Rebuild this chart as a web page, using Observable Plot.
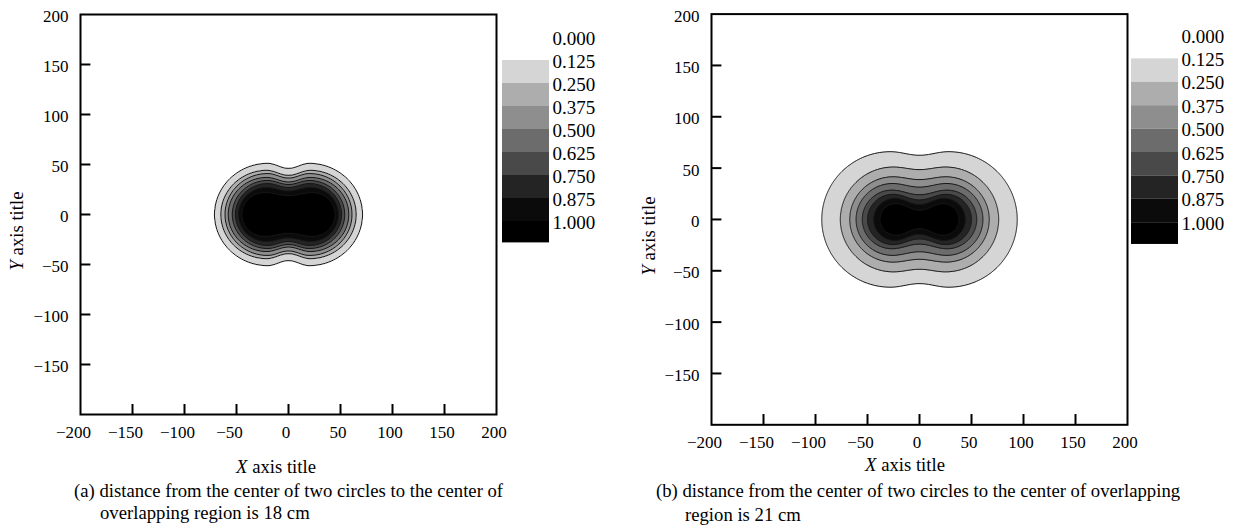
<!DOCTYPE html>
<html>
<head>
<meta charset="utf-8">
<script src="https://cdn.jsdelivr.net/npm/d3@7"></script>
<script src="https://cdn.jsdelivr.net/npm/@observablehq/plot@0.6"></script>
<style>
  body { margin: 0; background: #fff; }
  #root { position: relative; width: 1235px; height: 528px; overflow: hidden;
          font-family: "Liberation Serif", "Times New Roman", serif; color: #000; background: #fff; }
  #root svg, #root svg text { font-family: "Liberation Serif", "Times New Roman", serif !important; }
  .abs { position: absolute; white-space: nowrap; line-height: 1; }
  .t { font-size: 18.7px; }
</style>
</head>
<body>
<div id="root"></div>
<script>
// ---------- data ----------
const levels = [0.125, 0.25, 0.375, 0.5, 0.625, 0.75, 0.875, 1.0];
const legendLabels = ["0.000", "0.125", "0.250", "0.375", "0.500", "0.625", "0.750", "0.875", "1.000"];
const grays = ["#d5d5d5", "#adadad", "#8e8e8e", "#6c6c6c", "#494949", "#242424", "#0b0b0b", "#000000"];
const xTicks = [-200, -150, -100, -50, 0, 50, 100, 150, 200];
const yTicks = [200, 150, 100, 50, 0, -50, -100, -150];

// panel (a): for each contour level, half-width on the x axis, height of the lobes, height at x = 0
const aHalfWidth   = [71, 65, 61, 58, 54, 51, 48, 45];
const aLobeHeight  = [51, 44, 41, 37, 34, 31, 27, 22];
const aCentreHeight = [46, 39, 36.5, 32.5, 30, 27, 23.5, 19];
// panel (b)
const bHalfWidth   = [94, 76, 67, 61, 55, 50, 44, 38];
const bLobeHeight  = [66, 51, 41.5, 35, 28.5, 24.5, 20.5, 15.5];
const bCentreHeight = [62.5, 48.5, 38.8, 31.5, 24, 19, 14.5, 9];

const captionA = ["(a) distance from the center of two circles to the center of", "overlapping region is 18 cm"];
const captionB = ["(b) distance from the center of two circles to the center of overlapping", "region is 21 cm"];

// ---------- helpers ----------
const SERIF = '"Liberation Serif", "Times New Roman", serif';
const fmtTick = d => (d < 0 ? "\u2212" + Math.abs(d) : String(d));

// continuous field whose level sets pass through the measured contour shapes
function makeField(hw, lobe, centre) {
  const shapes = hw.map((X, i) => ({c: X - lobe[i], R: lobe[i], dip: lobe[i] - centre[i]}));
  const g = (s, x, y) => {
    const ax = Math.abs(x), ay = Math.abs(y);
    const d = Math.hypot(Math.max(0, ax - s.c), ay);
    const bump = ax < s.c ? (1 + Math.cos(Math.PI * ax / s.c)) / 2 : 0;
    return s.R - (d + s.dip * bump);
  };
  const n = shapes.length;
  return (x, y) => {
    const gs = shapes.map(s => g(s, x, y));
    let k = -1;
    for (let i = n - 1; i >= 0; --i) if (gs[i] >= 0) { k = i; break; }
    if (k < 0) return Math.max(0, levels[0] + 0.125 * gs[0] / 15);
    if (k === n - 1) return levels[k] + 0.125 * gs[k] / 10;
    return levels[k] + 0.125 * gs[k] / (gs[k] - gs[k + 1]);
  };
}

function panel({hw, lobe, centre, frameHeight, marginTop}) {
  const field = makeField(hw, lobe, centre);
  const innerX = xTicks.filter(t => t > -200 && t < 200);
  const innerY = yTicks.filter(t => t > -200 && t < 200);
  const txt = {fontSize: 17, fontFamily: SERIF, fill: "#000"};
  return Plot.plot({
    width: 500, height: marginTop + frameHeight + 40,
    marginLeft: 80, marginRight: 4, marginTop, marginBottom: 40,
    x: {domain: [-200, 200], axis: null},
    y: {domain: [-200, 200], axis: null},
    color: {type: "ordinal", domain: levels, range: grays},
    style: {fontFamily: SERIF, background: "transparent", overflow: "visible", color: "#000"},
    marks: [
      Plot.contour({x1: -200, y1: -200, x2: 200, y2: 200, pixelSize: 1,
                    fill: field, thresholds: levels, stroke: "#161616", strokeWidth: 1}),
      Plot.ruleX(innerX, {y1: -200, y2: -190, stroke: "#000", strokeWidth: 2}),
      Plot.ruleY(innerY, {x1: -200, x2: -190, stroke: "#000", strokeWidth: 2}),
      Plot.frame({stroke: "#000", strokeWidth: 2}),
      Plot.text(yTicks, {x: -200, y: d => d, text: fmtTick, textAnchor: "end", dx: -12, dy: 2, ...txt}),
      Plot.text(xTicks.filter(t => t < 0), {x: d => d, y: -200, text: fmtTick, dy: 18, dx: -7, ...txt}),
      Plot.text(xTicks.filter(t => t >= 0), {x: d => d, y: -200, text: fmtTick, dy: 18, dx: -2.5, ...txt})
    ]
  });
}

function legend({top, step, boxWidth}) {
  const boxes = levels.map((lv, i) => ({lv, lo: i + 1, hi: i === levels.length - 1 ? i + 1.93 : i + 2}));
  const labels = legendLabels.map((t, i) => ({t, i}));
  return Plot.plot({
    width: 110, height: top + step * 8 + 40,
    marginLeft: 0, marginRight: 110 - boxWidth, marginTop: top, marginBottom: 40,
    x: {domain: [0, 1], axis: null},
    y: {domain: [8, 0], axis: null},
    color: {type: "ordinal", domain: levels, range: grays},
    style: {fontFamily: SERIF, background: "transparent", overflow: "visible", color: "#000"},
    marks: [
      Plot.rect(boxes, {x1: 0, x2: 1, y1: "lo", y2: "hi", fill: "lv"}),
      Plot.text(labels, {x: 1, y: "i", text: "t", textAnchor: "start", dx: 3, dy: 1,
                         fontSize: 19, fontFamily: SERIF, fill: "#000"})
    ]
  });
}

const root = document.getElementById("root");
function place(node, left, top) {
  node.style.position = "absolute";
  node.style.left = left + "px";
  node.style.top = top + "px";
  root.appendChild(node);
}
function label(html, left, top, extra = "") {
  const d = document.createElement("div");
  d.className = "abs t";
  d.innerHTML = html;
  d.style.cssText += `left:${left}px;top:${top}px;${extra}`;
  root.appendChild(d);
  return d;
}

place(panel({hw: aHalfWidth, lobe: aLobeHeight, centre: aCentreHeight, frameHeight: 400, marginTop: 14}), 0, 0);
place(panel({hw: bHalfWidth, lobe: bLobeHeight, centre: bCentreHeight, frameHeight: 410.7, marginTop: 13.6}), 631, 0);
place(legend({top: 37, step: 23, boxWidth: 47}), 502, 0);
place(legend({top: 35, step: 23.4, boxWidth: 47}), 1131, 0);

// axis titles
label("<i>Y</i> axis title", 17, 231, "transform:translate(-50%,-50%) rotate(-90deg);");
label("<i>Y</i> axis title", 649, 236, "transform:translate(-50%,-50%) rotate(-90deg);");
label("<i>X</i> axis title", 276, 466.5, "transform:translate(-50%,-50%);");
label("<i>X</i> axis title", 905, 465, "transform:translate(-50%,-50%);");

// captions
label(captionA[0], 74, 491.7 - 9.35);
label(captionA[1], 100, 513.3 - 9.35);
label(captionB[0], 656, 491.7 - 9.35);
label(captionB[1], 685, 515 - 9.35);
</script>
</body>
</html>
